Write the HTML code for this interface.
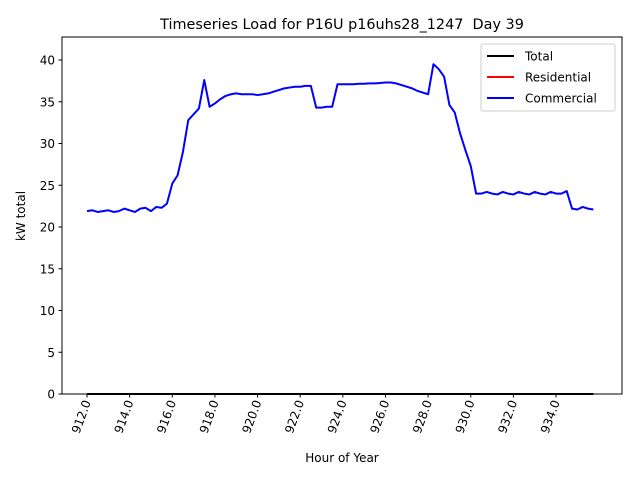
<!DOCTYPE html>
<html><head><meta charset="utf-8"><style>
body{margin:0;background:#fff;font-family:"Liberation Sans","DejaVu Sans",sans-serif;}
text{font-family:"DejaVu Sans","Liberation Sans",sans-serif;white-space:pre;}
</style></head><body>
<svg id="c" width="640" height="480" xmlns="http://www.w3.org/2000/svg"></svg>
<script>
const hourStart = 912;
const hourStep = 0.25;
const commercial = [21.9,22.0,21.8,21.9,22.0,21.8,21.9,22.2,22.0,21.8,22.2,22.3,21.9,22.4,22.3,22.8,
25.2,26.2,29.0,32.8,33.5,34.2,37.6,34.4,34.8,35.3,35.7,35.9,36.0,35.9,35.9,35.9,
35.8,35.9,36.0,36.2,36.4,36.6,36.7,36.8,36.8,36.9,36.9,34.3,34.3,34.4,34.4,37.1,37.1,
37.1,37.1,37.15,37.15,37.2,37.2,37.25,37.3,37.3,37.2,37.0,36.8,36.6,36.3,36.1,35.9,39.5,38.9,
38.0,34.6,33.7,31.2,29.2,27.3,24.0,24.0,24.2,24.0,23.9,24.2,24.0,23.9,24.2,24.0,
23.9,24.2,24.0,23.9,24.2,24.0,24.0,24.3,22.2,22.1,22.4,22.2,22.1];
const residential = commercial.map(()=>0);
const total = commercial.map(()=>0);
const yTicks = [0,5,10,15,20,25,30,35,40];
const xTicks = [912,914,916,918,920,922,924,926,928,930,932,934];

const L=62,R=622,T=37,B=394;
const X=h=>87+(h-912)*21.32;
const Y=v=>394-v*8.35;
const svg=document.getElementById('c');
const NS='http://www.w3.org/2000/svg';
function mk(tag,attrs,parent){const e=document.createElementNS(NS,tag);for(const k in attrs)e.setAttribute(k,attrs[k]);(parent||svg).appendChild(e);return e;}

const frame=mk('rect',{x:L,y:T,width:R-L,height:B-T,fill:'none',stroke:'#000','stroke-width':1});



yTicks.forEach(v=>{
  const g=mk('g',{});
  
  
  mk('line',{x1:L-3.5,x2:L,y1:Y(v),y2:Y(v),stroke:'#000'},g);
  const t=mk('text',{x:L-7,y:Y(v)+4.5,'text-anchor':'end','font-size':12},g);t.textContent=v;
});
xTicks.forEach(h=>{
  const g=mk('g',{});
  
  
  mk('line',{x1:X(h),x2:X(h),y1:B,y2:B+3.5,stroke:'#000'},g);
  const t=mk('text',{x:0,y:0,'text-anchor':'end','font-size':12,transform:`translate(${X(h)+4},${B+8}) rotate(-70)`},g);t.textContent=h.toFixed(1);
});

function series(arr,color,name){
  const d=arr.map((v,i)=>(i?'L':'M')+X(hourStart+i*hourStep).toFixed(2)+','+Y(v).toFixed(2)).join('');
  const p=mk('path',{d:d,fill:'none',stroke:color,'stroke-width':2,'stroke-linejoin':'round'});
  
  
}
series(total,'#000','total-line');
series(residential,'#f00','residential-line');
series(commercial,'#00f','commercial-line');
series(total,'#000','total-line-zero');

const title=mk('text',{x:342,y:29,'text-anchor':'middle','font-size':14.4});
title.textContent='Timeseries Load for P16U p16uhs28_1247  Day 39';


const xl=mk('text',{x:342,y:462,'text-anchor':'middle','font-size':12});
xl.textContent='Hour of Year';


const yl=mk('text',{x:0,y:0,'text-anchor':'middle','font-size':12,transform:'translate(25,216) rotate(-90)'});
yl.textContent='kW total';



const lg=mk('g',{});


mk('rect',{x:481,y:44,width:134,height:67,rx:2,fill:'#fff',stroke:'#ccc'},lg);
[['Total','#000'],['Residential','#f00'],['Commercial','#00f']].forEach((e,i)=>{
  const g=mk('g',{},lg);
  
  
  const y=56+i*21;
  mk('line',{x1:487,x2:514,y1:y,y2:y,stroke:e[1],'stroke-width':2},g);
  const t=mk('text',{x:525,y:y+4.5,'font-size':12},g);t.textContent=e[0];
});
</script>
</body></html>
